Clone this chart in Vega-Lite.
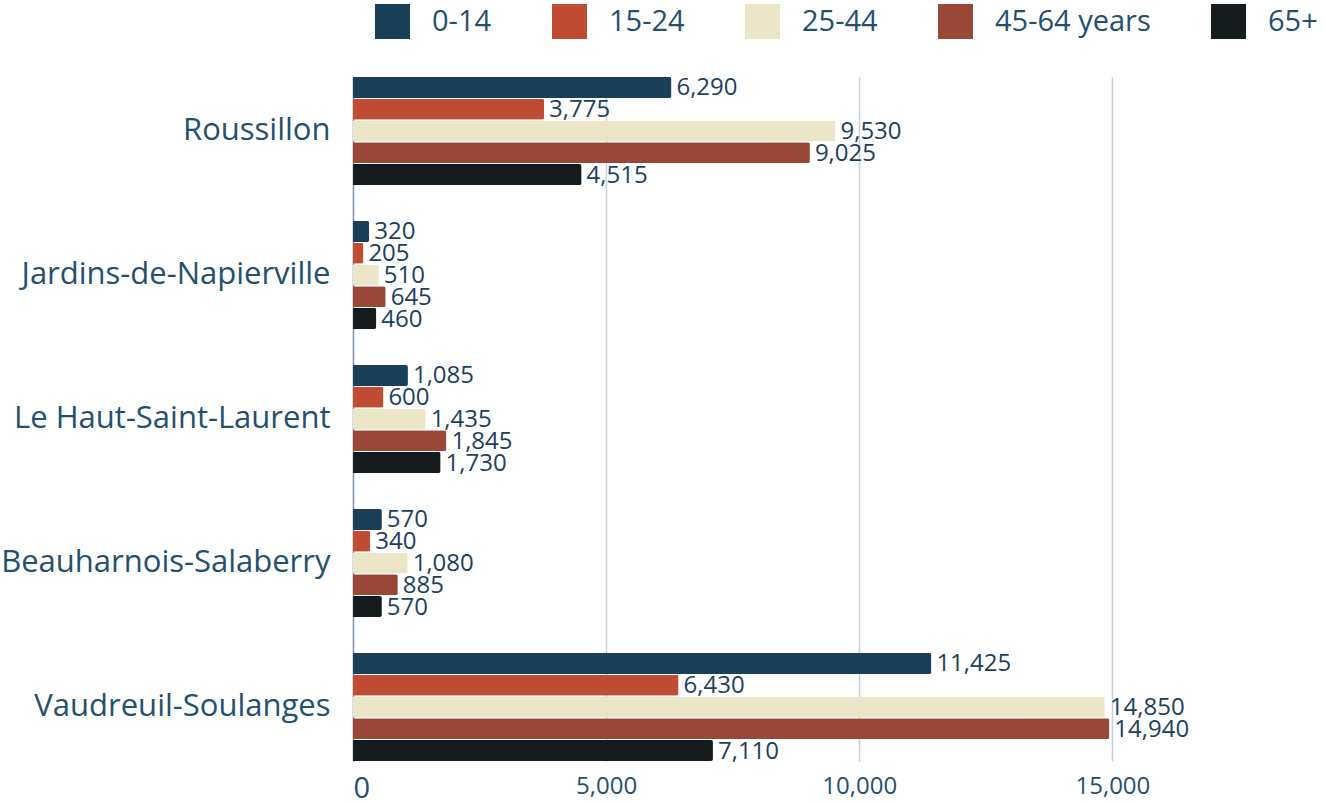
{
  "$schema": "https://vega.github.io/schema/vega-lite/v6.json",
  "autosize": "none",
  "padding": {"left": 353, "top": 77, "right": 0, "bottom": 43},
  "width": 972,
  "height": 684,
  "background": "white",
  "config": {"view": {"stroke": null}},
  "data": {
    "values": [
      {"region": "Roussillon", "group": "0-14", "value": 6290},
      {"region": "Roussillon", "group": "15-24", "value": 3775},
      {"region": "Roussillon", "group": "25-44", "value": 9530},
      {"region": "Roussillon", "group": "45-64 years", "value": 9025},
      {"region": "Roussillon", "group": "65+", "value": 4515},
      {"region": "Jardins-de-Napierville", "group": "0-14", "value": 320},
      {"region": "Jardins-de-Napierville", "group": "15-24", "value": 205},
      {"region": "Jardins-de-Napierville", "group": "25-44", "value": 510},
      {"region": "Jardins-de-Napierville", "group": "45-64 years", "value": 645},
      {"region": "Jardins-de-Napierville", "group": "65+", "value": 460},
      {"region": "Le Haut-Saint-Laurent", "group": "0-14", "value": 1085},
      {"region": "Le Haut-Saint-Laurent", "group": "15-24", "value": 600},
      {"region": "Le Haut-Saint-Laurent", "group": "25-44", "value": 1435},
      {"region": "Le Haut-Saint-Laurent", "group": "45-64 years", "value": 1845},
      {"region": "Le Haut-Saint-Laurent", "group": "65+", "value": 1730},
      {"region": "Beauharnois-Salaberry", "group": "0-14", "value": 570},
      {"region": "Beauharnois-Salaberry", "group": "15-24", "value": 340},
      {"region": "Beauharnois-Salaberry", "group": "25-44", "value": 1080},
      {"region": "Beauharnois-Salaberry", "group": "45-64 years", "value": 885},
      {"region": "Beauharnois-Salaberry", "group": "65+", "value": 570},
      {"region": "Vaudreuil-Soulanges", "group": "0-14", "value": 11425},
      {"region": "Vaudreuil-Soulanges", "group": "15-24", "value": 6430},
      {"region": "Vaudreuil-Soulanges", "group": "25-44", "value": 14850},
      {"region": "Vaudreuil-Soulanges", "group": "45-64 years", "value": 14940},
      {"region": "Vaudreuil-Soulanges", "group": "65+", "value": 7110}
    ]
  },
  "encoding": {
    "y": {
      "field": "region",
      "type": "nominal",
      "sort": null,
      "scale": {"paddingInner": 0.25, "paddingOuter": 0},
      "axis": {
        "title": null,
        "ticks": false,
        "labelLimit": 0,
        "labelFontSize": 31,
        "labelColor": "#24506f",
        "labelPadding": 23,
        "labelFont": "Open Sans",
        "domainColor": "#8a9aae",
        "domainWidth": 1.5
      }
    },
    "yOffset": {
      "field": "group",
      "type": "nominal",
      "sort": ["0-14", "15-24", "25-44", "45-64 years", "65+"],
      "scale": {"paddingInner": 0.04, "paddingOuter": 0}
    },
    "x": {
      "field": "value",
      "type": "quantitative",
      "scale": {"domain": [0, 19200], "nice": false},
      "axis": {
        "title": null,
        "values": [0, 5000, 10000, 15000],
        "format": ",.0f",
        "ticks": false,
        "domain": false,
        "grid": true,
        "gridColor": "#c6cfda",
        "gridWidth": 1.5,
        "labelFont": "Open Sans",
        "labelFontSize": {"condition": {"test": "datum.value == 0", "value": 29}, "value": 24},
        "labelColor": "#24506f",
        "labelPadding": 13
      }
    }
  },
  "layer": [
    {
      "mark": {"type": "bar", "cornerRadiusEnd": 2},
      "encoding": {
        "color": {
          "field": "group",
          "type": "nominal",
          "sort": ["0-14", "15-24", "25-44", "45-64 years", "65+"],
          "scale": {
            "domain": ["0-14", "15-24", "25-44", "45-64 years", "65+"],
            "range": ["#1a3f59", "#c04c34", "#ece6c9", "#994736", "#161b1e"]
          },
          "legend": {
            "title": null,
            "orient": "none",
            "direction": "horizontal",
            "legendX": 22,
            "legendY": -73,
            "symbolType": "square",
            "symbolSize": 1225,
            "symbolStrokeWidth": 0,
            "labelFont": "Open Sans",
            "labelFontSize": 29,
            "labelColor": "#24506f",
            "labelOffset": 22,
            "columnPadding": 60
          }
        }
      }
    },
    {
      "mark": {
        "type": "text",
        "align": "left",
        "baseline": "middle",
        "dx": 5,
        "dy": 1,
        "fontSize": 24,
        "font": "Open Sans",
        "color": "#1d3f5e"
      },
      "encoding": {
        "text": {"field": "value", "type": "quantitative", "format": ",.0f"}
      }
    }
  ]
}
